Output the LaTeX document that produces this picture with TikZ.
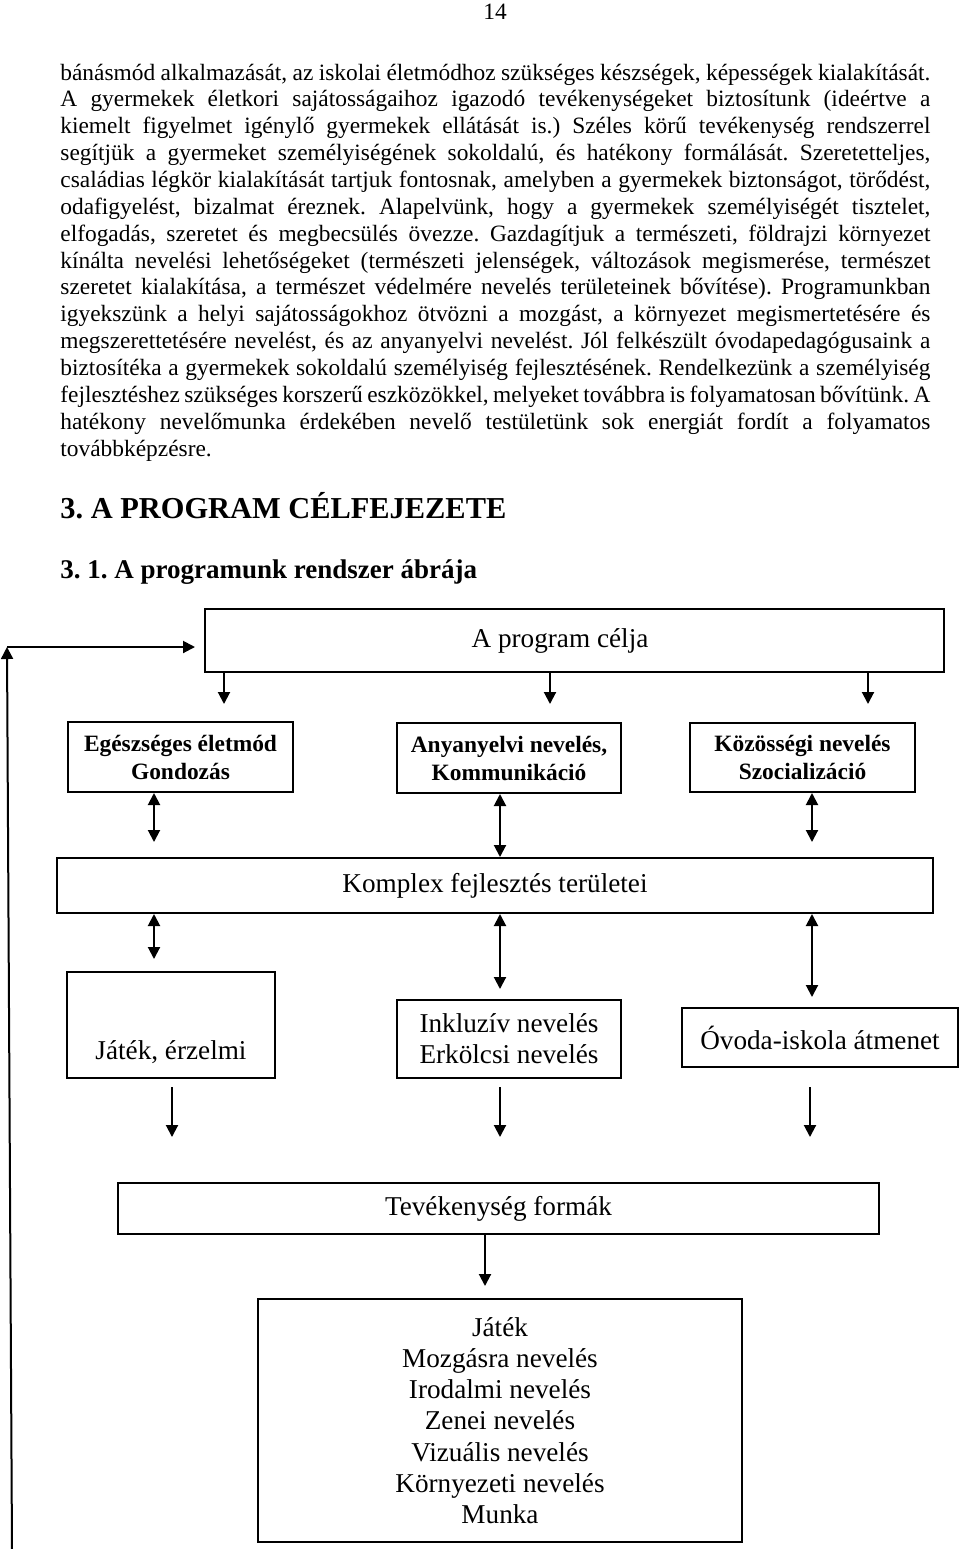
\documentclass[tikz,border=0pt]{standalone}
\usepackage{fontspec}
\setmainfont{Liberation Serif}
\usetikzlibrary{arrows.meta,calc}
\frenchspacing
\begin{document}
\frenchspacing
\begin{tikzpicture}[x=0.5pt,y=-0.5pt,
  bx/.style={draw, line width=1pt, inner sep=0pt},
  arr/.style={line width=1pt, -{Triangle[width=6pt,length=6pt]}},
  darr/.style={line width=1pt, {Triangle[width=6pt,length=6pt]}-{Triangle[width=6pt,length=6pt]}},
  body/.style={inner sep=0pt, anchor=base west, font=\fontsize{11.7}{13.45}\selectfont},
  dtext/.style={font=\fontsize{13.6}{15.6}\selectfont},
  btext/.style={font=\fontsize{11.7}{14}\selectfont\bfseries},
  head/.style={inner sep=0pt, anchor=base west},
]
\useasboundingbox (0,0) rectangle (960,1549);

% page number
\node[body, anchor=base] (pg) at (495,19) {14};

% body text
\node[body] (l1) at (60,80.0) {\makebox[435pt][s]{bánásmód alkalmazását, az iskolai életmódhoz szükséges készségek, képességek kialakítását.}};
\node[body] (l2) at (60,106.9) {\makebox[435pt][s]{A gyermekek életkori sajátosságaihoz igazodó tevékenységeket biztosítunk (ideértve a}};
\node[body] (l3) at (60,133.7) {\makebox[435pt][s]{kiemelt figyelmet igénylő gyermekek ellátását is.) Széles körű tevékenység rendszerrel}};
\node[body] (l4) at (60,160.6) {\makebox[435pt][s]{segítjük a gyermeket személyiségének sokoldalú, és hatékony formálását. Szeretetteljes,}};
\node[body] (l5) at (60,187.4) {\makebox[435pt][s]{családias légkör kialakítását tartjuk fontosnak, amelyben a gyermekek biztonságot, törődést,}};
\node[body] (l6) at (60,214.3) {\makebox[435pt][s]{odafigyelést, bizalmat éreznek. Alapelvünk, hogy a gyermekek személyiségét tisztelet,}};
\node[body] (l7) at (60,241.2) {\makebox[435pt][s]{elfogadás, szeretet és megbecsülés övezze. Gazdagítjuk a természeti, földrajzi környezet}};
\node[body] (l8) at (60,268.0) {\makebox[435pt][s]{kínálta nevelési lehetőségeket (természeti jelenségek, változások megismerése, természet}};
\node[body] (l9) at (60,294.9) {\makebox[435pt][s]{szeretet kialakítása, a természet védelmére nevelés területeinek bővítése). Programunkban}};
\node[body] (l10) at (60,321.7) {\makebox[435pt][s]{igyekszünk a helyi sajátosságokhoz ötvözni a mozgást, a környezet megismertetésére és}};
\node[body] (l11) at (60,348.6) {\makebox[435pt][s]{megszerettetésére nevelést, és az anyanyelvi nevelést. Jól felkészült óvodapedagógusaink a}};
\node[body] (l12) at (60,375.5) {\makebox[435pt][s]{biztosítéka a gyermekek sokoldalú személyiség fejlesztésének. Rendelkezünk a személyiség}};
\node[body] (l13) at (60,402.3) {\makebox[435pt][s]{fejlesztéshez szükséges korszerű eszközökkel, melyeket továbbra is folyamatosan bővítünk. A}};
\node[body] (l14) at (60,429.2) {\makebox[435pt][s]{hatékony nevelőmunka érdekében nevelő testületünk sok energiát fordít a folyamatos}};
\node[body] (l15) at (60,456.0) {továbbképzésre.};

% headings
\node[head, font=\fontsize{15.2}{18}\selectfont\bfseries] (h1) at (60,518) {3. A PROGRAM CÉLFEJEZETE};
\node[head, font=\fontsize{13.5}{16}\selectfont\bfseries] (h2) at (60,578) {3. 1. A programunk rendszer ábrája};

% diagram boxes
\node[bx, dtext, minimum width=369.5pt, minimum height=31.5pt] (celja) at (574.5,640.5) {\hspace*{-14.5pt}A program célja};
\node[bx, btext, align=center, minimum width=112.5pt, minimum height=35pt] (egesz) at (180.5,757) {Egészséges életmód\\Gondozás};
\node[bx, btext, align=center, minimum width=112pt, minimum height=35pt] (anya) at (509,758) {Anyanyelvi nevelés,\\Kommunikáció};
\node[bx, btext, align=center, minimum width=112.5pt, minimum height=34.5pt] (kozos) at (802.5,757.5) {Közösségi nevelés\\Szocializáció};
\node[bx, dtext, minimum width=438pt, minimum height=27.5pt] (komplex) at (495,885.5) {Komplex fejlesztés területei};
\node[bx, dtext, minimum width=104pt, minimum height=53pt, text height=38pt, text depth=4pt] (jatek) at (171,1025) {Játék, érzelmi};
\node[bx, dtext, align=center, minimum width=112pt, minimum height=39pt] (inkl) at (509,1039) {Inkluzív nevelés\\Erkölcsi nevelés};
\node[bx, dtext, minimum width=138pt, minimum height=29.5pt] (ovoda) at (820,1037.5) {Óvoda-iskola átmenet};
\node[bx, dtext, minimum width=380.5pt, minimum height=25.5pt] (tevek) at (498.5,1208.5) {Tevékenység formák};
\node[bx, dtext, align=center, minimum width=242pt, minimum height=121.5pt] (last) at (500,1420.5) {Játék\\Mozgásra nevelés\\Irodalmi nevelés\\Zenei nevelés\\Vizuális nevelés\\Környezeti nevelés\\Munka};

% x positions of connectors
\coordinate (xa) at (224,0);
\coordinate (xb) at (550,0);
\coordinate (xc) at (868,0);
\coordinate (xd) at (154,0);
\coordinate (xe) at (500,0);
\coordinate (xf) at (812,0);
\coordinate (xg) at (172,0);
\coordinate (xh) at (810,0);
\coordinate (xi) at (485,0);

% goal to row 2
\draw[arr, shorten >=8.5pt] (celja.south -| xa) -- (egesz.north -| xa);
\draw[arr, shorten >=9pt] (celja.south -| xb) -- (anya.north -| xb);
\draw[arr, shorten >=9pt] (celja.south -| xc) -- (kozos.north -| xc);

% row 2 <-> komplex
\draw[darr, shorten >=7.5pt] (egesz.south -| xd) -- (komplex.north -| xd);
\draw[darr] (anya.south -| xe) -- (komplex.north -| xe);
\draw[darr, shorten >=7.5pt] (kozos.south -| xf) -- (komplex.north -| xf);

% komplex <-> row 3
\draw[darr, shorten >=6pt] (komplex.south -| xd) -- (jatek.north -| xd);
\draw[darr, shorten >=5pt] (komplex.south -| xe) -- (inkl.north -| xe);
\draw[darr, shorten >=5pt] (komplex.south -| xf) -- (ovoda.north -| xf);

% row 3 -> activity forms
\draw[arr, shorten <=4pt, shorten >=22.5pt] (jatek.south -| xg) -- (tevek.north -| xg);
\draw[arr, shorten <=4pt, shorten >=22.5pt] (inkl.south -| xe) -- (tevek.north -| xe);
\draw[arr, shorten <=9.5pt, shorten >=22.5pt] (ovoda.south -| xh) -- (tevek.north -| xh);

% activity forms -> list
\draw[arr, shorten >=6pt] (tevek.south -| xi) -- (last.north -| xi);

% feedback loop
\coordinate (fb0) at (12,1549);
\coordinate (fb1) at (7,647);
\draw[arr] (fb0) -- (fb1);
\draw[arr, shorten >=4.5pt] (fb1) -- (celja.west |- fb1);
\end{tikzpicture}
\end{document}
